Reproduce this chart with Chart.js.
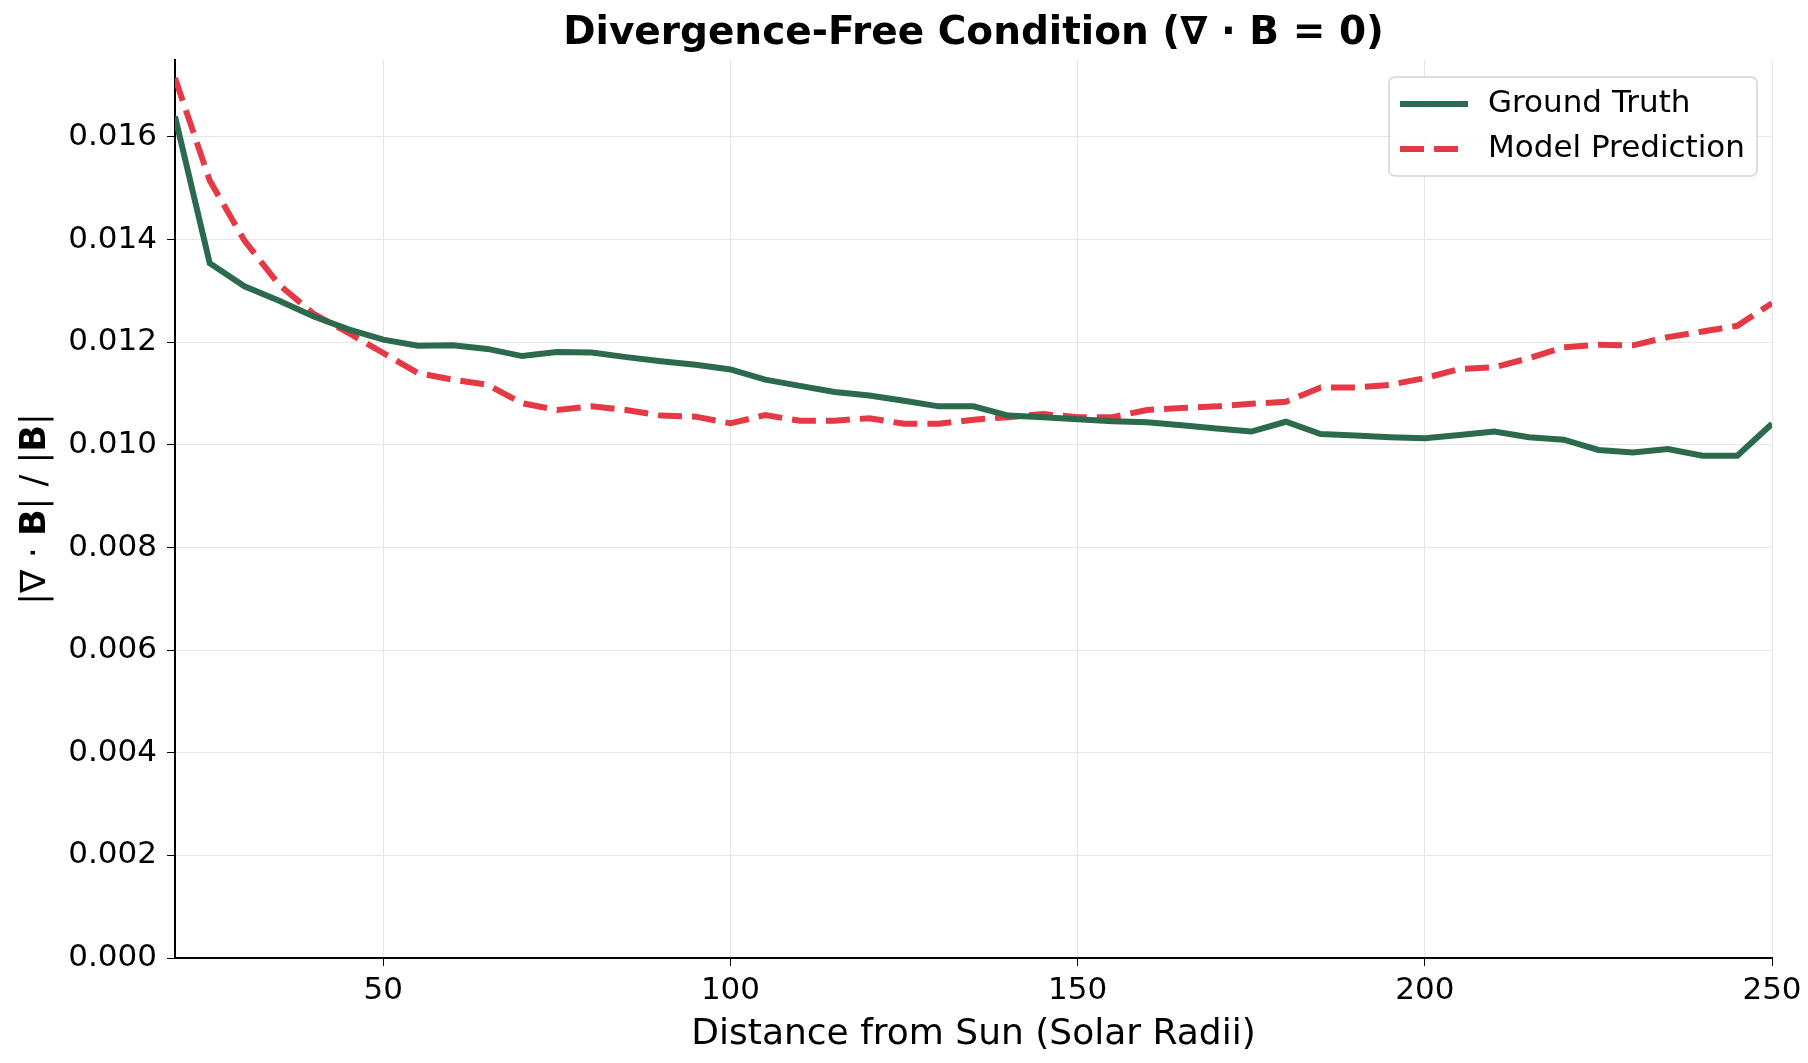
<!DOCTYPE html>
<html>
<head>
<meta charset="utf-8">
<title>Divergence-Free Condition</title>
<script src="https://cdn.jsdelivr.net/npm/chart.js@4.4.1/dist/chart.umd.min.js"></script>
<style>
  html, body { margin: 0; padding: 0; background: #fff; }
  #cvsDiv { display: block; }
</style>
</head>
<body>
<canvas id="cvsDiv" width="1808" height="1063"></canvas>
<script>
//dados do grafico
const distancias = [20, 25, 30, 35, 40, 45, 50, 55, 60, 65, 70, 75, 80, 85, 90, 95, 100,
  105, 110, 115, 120, 125, 130, 135, 140, 145, 150, 155, 160, 165, 170, 175, 180,
  185, 190, 195, 200, 205, 210, 215, 220, 225, 230, 235, 240, 245, 250];

const groundTruth = [0.01640, 0.01354, 0.01309, 0.01281, 0.01250, 0.01225, 0.01205, 0.01193,
  0.01194, 0.01187, 0.01173, 0.01181, 0.01180, 0.01171, 0.01163, 0.01156, 0.01147,
  0.01127, 0.01115, 0.01103, 0.01096, 0.01086, 0.01075, 0.01075, 0.01057, 0.01054,
  0.01050, 0.01046, 0.01044, 0.01038, 0.01032, 0.01026, 0.01045, 0.01021, 0.01018,
  0.01015, 0.01013, 0.01019, 0.01026, 0.01015, 0.01010, 0.00990, 0.00985, 0.00992,
  0.00979, 0.00979, 0.01041];

const modelPrediction = [0.01715, 0.01515, 0.01398, 0.01312, 0.01255, 0.01218, 0.01179, 0.01140,
  0.01127, 0.01117, 0.01081, 0.01068, 0.01075, 0.01068, 0.01057, 0.01055, 0.01042,
  0.01058, 0.01047, 0.01047, 0.01052, 0.01041, 0.01041, 0.01049, 0.01054, 0.01060,
  0.01054, 0.01054, 0.01068, 0.01072, 0.01075, 0.01080, 0.01084, 0.01112, 0.01112,
  0.01117, 0.01130, 0.01148, 0.01151, 0.01169, 0.01190, 0.01195, 0.01194, 0.01210,
  0.01221, 0.01232, 0.01276];

const ticksX = [50, 100, 150, 200, 250];
const ticksY = [0, 0.002, 0.004, 0.006, 0.008, 0.010, 0.012, 0.014, 0.016];

const nomesSeries = ["Ground Truth", "Model Prediction"];
const titulo = "Divergence-Free Condition (\u2207 \u00b7 B = 0)";
const tituloX = "Distance from Sun (Solar Radii)";

//cores
const corVerde = "#2b6a4d";
const corVermelha = "#e63946";
const fonte = "'DejaVu Sans', sans-serif";
const tracejado = [24, 10];

const ctxDiv = document.getElementById("cvsDiv");

//titulo, rotulo do eixo y e legenda desenhados a mao
const pluginTextos = {
  id: "textos",
  afterDraw(chart) {
    const ctx = chart.ctx;
    const area = chart.chartArea;
    ctx.save();

    // titulo centrado sobre a area do grafico
    ctx.fillStyle = "#000";
    ctx.font = "bold 39px " + fonte;
    ctx.textAlign = "center";
    ctx.textBaseline = "middle";
    ctx.fillText(titulo, (area.left + area.right) / 2, 34);

    // rotulo do eixo y: |∇ · B| / |B| com B em negrito
    const partes = [
      ["|\u2207 \u00b7 ", false], ["B", true], ["| / |", false], ["B", true], ["|", false]
    ];
    const fNormal = "35px " + fonte;
    const fNegrito = "bold 35px " + fonte;
    let largura = 0;
    partes.forEach(p => {
      ctx.font = p[1] ? fNegrito : fNormal;
      largura += ctx.measureText(p[0]).width;
    });
    ctx.translate(36, (area.top + area.bottom) / 2);
    ctx.rotate(-Math.PI / 2);
    ctx.textAlign = "left";
    let px = -largura / 2;
    partes.forEach(p => {
      ctx.font = p[1] ? fNegrito : fNormal;
      ctx.fillText(p[0], px, 0);
      px += ctx.measureText(p[0]).width;
    });
    ctx.setTransform(1, 0, 0, 1, 0, 0);

    // legenda
    const lx = 1389, ly = 77, lw = 368, lh = 99;
    ctx.beginPath();
    ctx.roundRect(lx, ly, lw, lh, 6);
    ctx.fillStyle = "rgba(255,255,255,0.85)";
    ctx.fill();
    ctx.strokeStyle = "#d4d4d4";
    ctx.lineWidth = 1.5;
    ctx.stroke();

    const linhas = [[nomesSeries[0], corVerde, []], [nomesSeries[1], corVermelha, tracejado]];
    linhas.forEach((l, i) => {
      const y = 104 + i * 45;
      ctx.beginPath();
      ctx.setLineDash(l[2]);
      ctx.strokeStyle = l[1];
      ctx.lineWidth = 6;
      ctx.moveTo(1400, y);
      ctx.lineTo(1468, y);
      ctx.stroke();
      ctx.setLineDash([]);
      ctx.fillStyle = "#000";
      ctx.font = "31px " + fonte;
      ctx.textBaseline = "middle";
      ctx.fillText(l[0], 1488, y);
    });
    ctx.restore();
  }
};

new Chart(ctxDiv, {
  type: "line",
  data: {
    labels: distancias,
    datasets: [
      {
        label: nomesSeries[0],
        data: distancias.map((d, i) => ({ x: d, y: groundTruth[i] })),
        borderColor: corVerde,
        borderWidth: 6,
        pointRadius: 0,
        tension: 0,
        fill: false
      },
      {
        label: nomesSeries[1],
        data: distancias.map((d, i) => ({ x: d, y: modelPrediction[i] })),
        borderColor: corVermelha,
        borderWidth: 6,
        borderDash: tracejado,
        pointRadius: 0,
        tension: 0,
        fill: false
      }
    ]
  },
  options: {
    responsive: false,
    animation: false,
    layout: { padding: { top: 60, right: 36, left: 0, bottom: 0 } },
    plugins: {
      legend: { display: false },
      title: { display: false },
      tooltip: { enabled: false }
    },
    scales: {
      x: {
        type: "linear",
        min: 20,
        max: 250,
        afterBuildTicks: s => { s.ticks = ticksX.map(v => ({ value: v })); },
        afterFit: s => { s.height = 105; },
        border: { display: true, color: "#000", width: 2 },
        grid: { color: "#e6e6e6", lineWidth: 1, tickColor: "#000", tickLength: 8 },
        ticks: { color: "#000", font: { family: fonte, size: 31 }, padding: 6, maxRotation: 0 },
        title: {
          display: true,
          text: tituloX,
          color: "#000",
          font: { family: fonte, size: 36 },
          padding: { top: 0, bottom: 7 }
        }
      },
      y: {
        min: 0,
        max: 0.0175,
        afterBuildTicks: s => { s.ticks = ticksY.map(v => ({ value: v })); },
        afterFit: s => { s.width = 175; },
        border: { display: true, color: "#000", width: 2 },
        grid: { color: "#e6e6e6", lineWidth: 1, tickColor: "#000", tickLength: 8 },
        ticks: {
          color: "#000",
          font: { family: fonte, size: 31 },
          padding: 10,
          callback: v => v.toFixed(3)
        }
      }
    }
  },
  plugins: [pluginTextos]
});
</script>
</body>
</html>
